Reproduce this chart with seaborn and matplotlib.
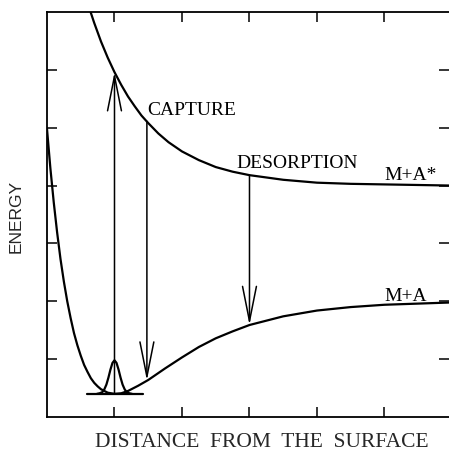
import matplotlib
matplotlib.use("Agg")
import matplotlib.pyplot as plt
import seaborn as sns
import pandas as pd

# ---- data ----
lower_x = [0, 0.05, 0.1, 0.15, 0.2, 0.25, 0.3, 0.35, 0.4, 0.45, 0.5, 0.55, 0.6, 0.65,
           0.7, 0.75, 0.8, 0.9, 1.0, 1.1, 1.2, 1.35, 1.5, 1.75, 2.0, 2.25, 2.5, 2.75,
           3.0, 3.5, 4.0, 4.5, 5.0, 5.5, 6.0]
lower_y = [4.98, 4.30, 3.71, 3.19, 2.73, 2.34, 2.00, 1.71, 1.45, 1.24, 1.06, 0.90, 0.78, 0.67,
           0.59, 0.53, 0.48, 0.42, 0.40, 0.41, 0.45, 0.54, 0.64, 0.84, 1.03, 1.21, 1.36, 1.48,
           1.59, 1.74, 1.84, 1.90, 1.94, 1.96, 1.98]

upper_x = [0.62, 0.7, 0.8, 0.9, 1.0, 1.1, 1.2, 1.3, 1.4, 1.5, 1.65, 1.8, 2.0, 2.25, 2.5,
           2.75, 3.0, 3.5, 4.0, 4.5, 5.0, 5.5, 6.0]
upper_y = [7.09, 6.81, 6.49, 6.21, 5.96, 5.74, 5.54, 5.37, 5.21, 5.08, 4.90, 4.75, 4.59, 4.44,
           4.32, 4.24, 4.18, 4.10, 4.05, 4.03, 4.02, 4.01, 4.00]

gauss_x = [0.74, 0.78, 0.82, 0.85, 0.88, 0.91, 0.94, 0.97, 1.0,
           1.03, 1.06, 1.09, 1.12, 1.15, 1.18, 1.22, 1.26]
gauss_y = [0.40, 0.41, 0.43, 0.48, 0.56, 0.68, 0.82, 0.935, 0.98,
           0.935, 0.82, 0.68, 0.56, 0.48, 0.43, 0.41, 0.40]

level_x = [0.59, 1.42]
level_y = [0.40, 0.40]

arrow_x = [1.0, 1.48, 3.0]
arrow_from = [0.40, 5.11, 4.18]
arrow_to = [5.96, 0.63, 1.59]

labels = ["CAPTURE", "DESORPTION", "M+A*", "M+A"]
label_x = [1.49, 2.81, 5.0, 5.0]
label_y = [5.30, 4.39, 4.18, 2.09]

x_ticks = [1, 2, 3, 4, 5]
y_ticks = [1, 2, 3, 4, 5, 6]

# ---- figure ----
sns.set_style("ticks")
plt.rcParams['font.family'] = ['Liberation Serif', 'DejaVu Serif']

fig = plt.figure(figsize=(4.49, 4.51), dpi=100)
W, H = 449, 451
ax = fig.add_axes([47 / W, (H - 417) / H, 402 / W, 405 / H])

lw_curve = 1.6
sns.lineplot(x=lower_x, y=lower_y, ax=ax, color="black", lw=lw_curve, sort=False, estimator=None)
sns.lineplot(x=upper_x, y=upper_y, ax=ax, color="black", lw=lw_curve, sort=False, estimator=None)
sns.lineplot(x=gauss_x, y=gauss_y, ax=ax, color="black", lw=lw_curve, sort=False, estimator=None)
sns.lineplot(x=level_x, y=level_y, ax=ax, color="black", lw=lw_curve, sort=False, estimator=None)

for xa, y0, y1 in zip(arrow_x, arrow_from, arrow_to):
    ax.annotate("", xy=(xa, y1), xytext=(xa, y0),
                arrowprops=dict(arrowstyle="->,head_length=2.5,head_width=0.5",
                                mutation_scale=10, lw=1.1, color="black",
                                shrinkA=0, shrinkB=0))

for t, lx, ly in zip(labels, label_x, label_y):
    ax.text(lx, ly, t, fontsize=14, ha="left", va="center", color="black",
            family=['Liberation Serif'])

ax.set_xlim(0, 5.956)
ax.set_ylim(0, 7)
ax.set_xticks(x_ticks)
ax.set_yticks(y_ticks)
ax.set_xticklabels([])
ax.set_yticklabels([])
ax.tick_params(direction="in", length=7, width=1.1, top=True, right=True,
               bottom=True, left=True, color="black")
for s in ["left", "bottom", "top"]:
    ax.spines[s].set_linewidth(1.3)
    ax.spines[s].set_color("black")
ax.spines["right"].set_visible(False)

ax.set_xlabel("DISTANCE  FROM  THE  SURFACE", fontsize=15.5, va="center",
              family=['Liberation Serif'])
ax.xaxis.set_label_coords(0.535, -0.062)
ax.set_ylabel("ENERGY", fontsize=12.5, va="center", family=['Liberation Sans'])
ax.yaxis.set_label_coords(-0.077, 0.494)

fig.savefig("out.png", dpi=100)
